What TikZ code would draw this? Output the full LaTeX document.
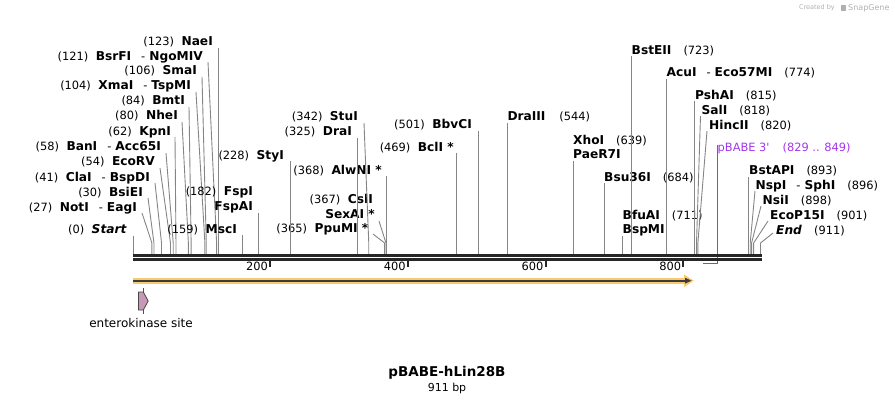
\documentclass[tikz,border=0pt]{standalone}
\usepackage{fontspec}
\setmainfont{DejaVu Sans}[ItalicFont={DejaVu Sans Oblique},BoldFont={DejaVu Sans Bold},BoldItalicFont={DejaVu Sans Bold Oblique}]
\definecolor{bb}{HTML}{262626}
\definecolor{ldr}{HTML}{858585}
\definecolor{prim}{HTML}{A335EE}
\definecolor{orng}{HTML}{F9C970}
\definecolor{pinkf}{HTML}{C898B8}
\definecolor{wm}{HTML}{B0B0B0}
\newcommand\gn{\hspace{7.5pt}}
\newcommand\gr{\hspace{12pt}}
\newcommand\dsh{\hspace{10pt}-\hspace{4pt}}
\newcommand\B[1]{{\fontsize{12.2}{13}\selectfont\bfseries #1}}
\newcommand\sx[1]{133.3+0.6885*#1}
\newcommand\ldr[4]{%
  \coordinate (#1a) at (#3,#4);
  \coordinate (#1k) at ({\sx{#2}},243);
  \coordinate (#1s) at ({\sx{#2}},254);
  \draw[leader] (#1a) -- (#1k) -- (#1s);}
\newcommand\vldr[3]{%
  \coordinate (#1a) at ({\sx{#2}},#3);
  \coordinate (#1s) at ({\sx{#2}},254);
  \draw[leader] (#1a) -- (#1s);}
\begin{document}
\begin{tikzpicture}[x=1pt,y=-1pt,
  lab/.style={inner sep=0pt,font=\fontsize{11.4}{13}\selectfont,text height=8.4pt,text depth=0pt},
  leader/.style={draw=ldr,line width=0.9pt},
  bbline/.style={draw=bb,line width=2.6pt},
  tick/.style={draw=bb,line width=2pt},
  ticklab/.style={inner sep=0pt,font=\fontsize{11.4}{13}\selectfont,text height=8.4pt,text depth=0pt,anchor=east}]
\useasboundingbox (0,0) rectangle (895,404);

% watermark
\node[inner sep=0pt,anchor=east,text=wm,font=\fontsize{6.5}{8}\selectfont] (wm1) at (835,8) {Created by};
\node[inner sep=0pt,anchor=west,text=wm,font=\fontsize{8}{9}\selectfont] (wm2) at (848,8) {SnapGene};
\fill[wm] (841,5) rectangle (846,11);

% ---------- left labels ----------
\node[lab,anchor=east] (Start) at (127,229.5) {(0)\gn\B{\textit{Start}}};
\node[lab,anchor=east] (NotI) at (137,207) {(27)\gn\B{NotI}\dsh\B{EagI}};
\node[lab,anchor=east] (BsiEI) at (143,192) {(30)\gn\B{BsiEI}};
\node[lab,anchor=east] (ClaI) at (150,177) {(41)\gn\B{ClaI}\dsh\B{BspDI}};
\node[lab,anchor=east] (EcoRV) at (155,161.5) {(54)\gn\B{EcoRV}};
\node[lab,anchor=east] (BanI) at (161,146.5) {(58)\gn\B{BanI}\dsh\B{Acc65I}};
\node[lab,anchor=east] (KpnI) at (171,131) {(62)\gn\B{KpnI}};
\node[lab,anchor=east] (NheI) at (178,115.5) {(80)\gn\B{NheI}};
\node[lab,anchor=east] (BmtI) at (185,100.5) {(84)\gn\B{BmtI}};
\node[lab,anchor=east] (XmaI) at (191,85.5) {(104)\gn\B{XmaI}\dsh\B{TspMI}};
\node[lab,anchor=east] (SmaI) at (197,70.5) {(106)\gn\B{SmaI}};
\node[lab,anchor=east] (BsrFI) at (203,56) {(121)\gn\B{BsrFI}\dsh\B{NgoMIV}};
\node[lab,anchor=east] (NaeI) at (213,41) {(123)\gn\B{NaeI}};

\vldr{Start}{0}{236}
\ldr{NotI}{27}{142}{213}
\ldr{BsiEI}{30}{148}{198}
\ldr{ClaI}{41}{155}{183}
\ldr{EcoRV}{54}{160}{168}
\ldr{BanI}{58}{166}{153}
\ldr{KpnI}{62}{175}{137}
\ldr{NheI}{80}{182}{122}
\ldr{BmtI}{84}{189}{107}
\ldr{XmaI}{104}{196}{92}
\ldr{SmaI}{106}{202}{77}
\ldr{BsrFI}{121}{208}{62}
\vldr{NaeI}{123}{48}

% ---------- middle labels ----------
\node[lab,anchor=east] (MscI) at (237,229.5) {(159)\gn\B{MscI}};
\node[lab,anchor=east] (FspI) at (253,191.5) {(182)\gn\B{FspI}};
\node[lab,anchor=east] (FspAI) at (253,206.5) {\B{FspAI}};
\node[lab,anchor=east] (StyI) at (284,155) {(228)\gn\B{StyI}};
\node[lab,anchor=east] (DraI) at (352,131.5) {(325)\gn\B{DraI}};
\node[lab,anchor=east] (StuI) at (358,116.5) {(342)\gn\B{StuI}};
\node[lab,anchor=east] (AlwNI) at (382,170) {(368)\gn\B{AlwNI *}};
\node[lab,anchor=east] (CslI) at (373,199.5) {(367)\gn\B{CslI}};
\node[lab,anchor=east] (SexAI) at (375,214) {\B{SexAI *}};
\node[lab,anchor=east] (PpuMI) at (368.5,228.5) {(365)\gn\B{PpuMI *}};
\node[lab,anchor=east] (BclI) at (454,147) {(469)\gn\B{BclI *}};
\node[lab,anchor=east] (BbvCI) at (472,124.5) {(501)\gn\B{BbvCI}};

\vldr{MscI}{159}{235}
\vldr{FspI}{182}{213}
\vldr{StyI}{228}{161}
\vldr{DraI}{325}{138}
\ldr{StuI}{342}{364}{123}
\vldr{AlwNI}{368}{176}
\ldr{CslI}{367}{379}{221}
\ldr{PpuMI}{365}{373}{234}
\vldr{BclI}{469}{153}
\vldr{BbvCI}{501}{131}

% ---------- right labels ----------
\node[lab,anchor=west] (DraIII) at (507.3,116.5) {\B{DraIII}\hspace{14pt}(544)};
\node[lab,anchor=west] (XhoI) at (573,140) {\B{XhoI}\gr(639)};
\node[lab,anchor=west] (PaeR7I) at (573,154.5) {\B{PaeR7I}};
\node[lab,anchor=west] (Bsu36I) at (604,177) {\B{Bsu36I}\gr(684)};
\node[lab,anchor=west] (BfuAI) at (622.5,215) {\B{BfuAI}\gr(711)};
\node[lab,anchor=west] (BspMI) at (622.5,229.5) {\B{BspMI}};
\node[lab,anchor=west] (BstEII) at (631.5,50) {\B{BstEII}\gr(723)};
\node[lab,anchor=west] (AcuI) at (666.5,72) {\B{AcuI}\dsh\B{Eco57MI}\gr(774)};
\node[lab,anchor=west] (PshAI) at (695,95) {\B{PshAI}\gr(815)};
\node[lab,anchor=west] (SalI) at (701.5,110) {\B{SalI}\gr(818)};
\node[lab,anchor=west] (HincII) at (709,125) {\B{HincII}\gr(820)};
\node[lab,anchor=west,text=prim] (pBABE) at (717.5,147) {pBABE 3\textquotesingle\hspace{13pt}(829 .. 849)};
\node[lab,anchor=west] (BstAPI) at (749,170) {\B{BstAPI}\gr(893)};
\node[lab,anchor=west] (NspI) at (755.5,185) {\B{NspI}\dsh\B{SphI}\gr(896)};
\node[lab,anchor=west] (NsiI) at (762.5,200) {\B{NsiI}\gr(898)};
\node[lab,anchor=west] (EcoP15I) at (770,215) {\B{EcoP15I}\gr(901)};
\node[lab,anchor=west] (End) at (776,230) {\B{\textit{End}}\gr(911)};

\vldr{DraIII}{544}{123}
\vldr{XhoI}{639}{161}
\vldr{Bsu36I}{684}{183}
\vldr{BfuAI}{711}{236}
\vldr{BstEII}{723}{56}
\vldr{AcuI}{774}{79}
\vldr{PshAI}{815}{101}
\ldr{SalI}{818}{700.5}{116}
\ldr{HincII}{820}{707}{131}
\vldr{BstAPI}{893}{177}
\ldr{NspI}{896}{755}{191}
\ldr{NsiI}{898}{761}{206}
\ldr{EcoP15I}{901}{768}{221}
\ldr{End}{911}{773}{233}

% primer
\coordinate (pr1) at (717.6,145);
\coordinate (pr2) at (717.6,263.5);
\coordinate (pr3) at (703,263.5);
\draw[prim,line width=1.3pt] (pr1) -- (pr2) -- (pr3);

% ---------- backbone ----------
\coordinate (bb0) at (133,255.2);
\coordinate (bb1) at (762,255.2);
\coordinate (bc0) at (133,259.4);
\coordinate (bc1) at (762,259.4);
\draw[bbline] (bb0) -- (bb1);
\draw[bbline] (bc0) -- (bc1);

\foreach \p in {200,400,600,800}{
  \coordinate (t\p a) at ({132.5+0.6885*\p},259);
  \coordinate (t\p b) at ({132.5+0.6885*\p},267);
  \draw[tick] (t\p a) -- (t\p b);
  \node[ticklab] (tl\p) at ({130.5+0.6885*\p},266.5) {\p};
}

% ---------- orange ORF arrow ----------
\fill[orng] (133,277.6) rectangle (686,283.8);
\fill[orng] (684,274.4) -- (693.8,280.7) -- (684,287) -- cycle;
\coordinate (orf0) at (133,280.7);
\coordinate (orf1) at (688,280.7);
\draw[bb!90,line width=1.8pt] (orf0) -- (orf1);
\fill[bb!90] (685,277.8) -- (691.5,280.7) -- (685,283.6) -- cycle;

% ---------- enterokinase site ----------
\draw[bb!80,line width=0.6pt] (143,288) -- (143,314);
\filldraw[fill=pinkf,draw=bb!85,line width=0.8pt] (138.5,292) -- (143.3,292) -- (148.2,301) -- (143.3,310) -- (138.5,310) -- cycle;
\node[inner sep=0pt,font=\fontsize{12}{13}\selectfont] (ek) at (141,323) {enterokinase site};

% ---------- title ----------
\node[inner sep=0pt,font=\fontsize{13.5}{15}\selectfont\bfseries] (title) at (447,373) {pBABE-hLin28B};
\node[inner sep=0pt,font=\fontsize{11}{12}\selectfont] (len) at (447,388) {911 bp};
\end{tikzpicture}
\end{document}
